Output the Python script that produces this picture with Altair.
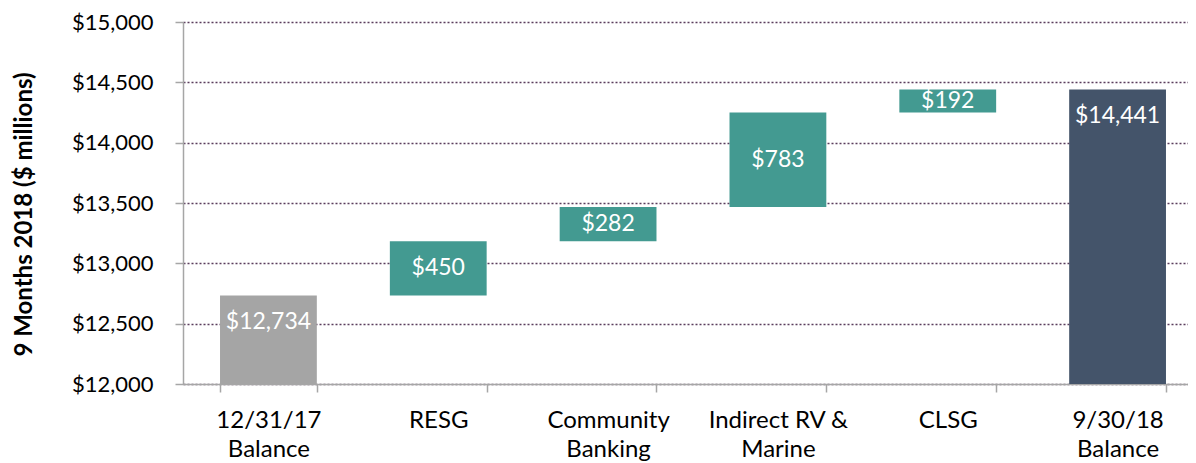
import altair as alt
import pandas as pd

categories = ["12/31/17|Balance", "RESG", "Community|Banking", "Indirect RV &|Marine", "CLSG", "9/30/18|Balance"]
amounts = [12734, 450, 282, 783, 192, 14441]
kinds = ["start", "delta", "delta", "delta", "delta", "end"]
y_ticks = [12000, 12500, 13000, 13500, 14000, 14500, 15000]

rows = []
running = 0
for c, a, k in zip(categories, amounts, kinds):
    if k == "delta":
        lo, hi = running, running + a
        running = hi
    else:
        lo, hi = y_ticks[0], a
        running = a
    rows.append({"cat": c, "amount": a, "kind": k, "lo": lo, "hi": hi})
df = pd.DataFrame(rows)

FONT = "Lato"
x_scale = alt.Scale(paddingInner=0.43, paddingOuter=0.218, range=[0, 1020])
x_enc = alt.X(
    "cat:N",
    sort=categories,
    title=None,
    scale=x_scale,
    axis=alt.Axis(
        labelExpr="split(datum.label, '|')",
        labelAngle=0,
        labelFontSize=24,
        labelFont=FONT,
        labelColor="#000000",
        labelBaseline="alphabetic",
        labelPadding=35,
        labelLineHeight=29,
        tickBand="extent",
        tickSize=8,
        tickColor="#a6a6a6",
        tickWidth=1.5,
        domainColor="#a6a6a6",
        domainWidth=1.5,
        grid=False,
    ),
)

y_scale = alt.Scale(domain=[12000, 15000], nice=False, zero=False)

base = alt.Chart(df)

bars = base.mark_bar().encode(
    x=x_enc,
    y=alt.Y(
        "lo:Q",
        scale=y_scale,
        title="9 Months 2018 ($ millions)",
        axis=alt.Axis(
            values=y_ticks,
            format="$,.0f",
            labelFontSize=22,
            labelFont=FONT,
            labelColor="#000000",
            labelPadding=22,
            tickSize=8,
            tickColor="#a6a6a6",
            tickWidth=1.5,
            domainColor="#a6a6a6",
            domainWidth=1.5,
            gridColor="#5a3d5c",
            gridDash=[2, 2],
            gridWidth=1.5,
            titleFont=FONT,
            titleFontSize=24,
            titleFontWeight="bold",
            titleColor="#000000",
            titleAngle=-90,
            titleX=-159,
            titleY=192,
            titleAlign="center",
            titleBaseline="middle",
        ),
    ),
    y2="hi:Q",
    color=alt.Color(
        "kind:N",
        scale=alt.Scale(domain=["start", "delta", "end"], range=["#a5a5a5", "#439a91", "#44546a"]),
        legend=None,
    ),
)

delta_labels = base.transform_filter("datum.kind == 'delta'").transform_calculate(
    mid="(datum.lo + datum.hi) / 2"
).mark_text(font=FONT, fontSize=23, color="white", baseline="middle").encode(
    x=alt.X("cat:N", sort=categories, scale=x_scale),
    y=alt.Y("mid:Q", scale=y_scale),
    text=alt.Text("amount:Q", format="$,.0f"),
)

total_labels = base.transform_filter("datum.kind != 'delta'").mark_text(
    font=FONT, fontSize=23, color="white", baseline="middle", dy=27
).encode(
    x=alt.X("cat:N", sort=categories, scale=x_scale),
    y=alt.Y("hi:Q", scale=y_scale),
    text=alt.Text("amount:Q", format="$,.0f"),
)

chart = (
    alt.layer(bars, delta_labels, total_labels)
    .properties(
        width=1005,
        height=362,
        autosize=alt.AutoSizeParams(type="none"),
        padding={"left": 175, "top": 14, "right": 0, "bottom": 79},
    )
    .configure_view(stroke=None)
)

chart.save("out.html", embed_options={"renderer": "svg", "actions": False})
